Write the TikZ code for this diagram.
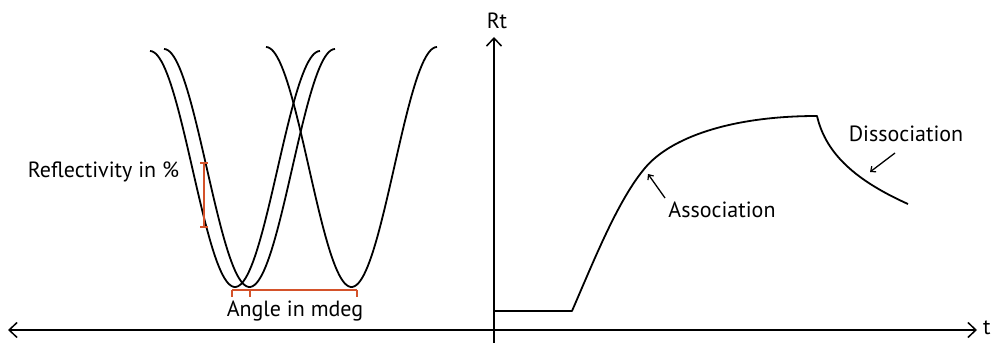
\documentclass[tikz,border=0pt]{standalone}
\usepackage{fontspec}
\setmainfont{PT Sans}
\usetikzlibrary{arrows.meta,calc}
\definecolor{bracketred}{RGB}{212,82,42}
\tikzset{
  curve/.style={line width=1.8pt, black, line join=round},
  axisline/.style={line width=1.5pt, black},
  pointer/.style={line width=1.3pt, black, -{Straight Barb[length=4pt,width=7pt,line width=1.2pt]}},
  redbar/.style={line width=2pt, bracketred},
  lbl/.style={inner sep=0pt, font=\fontsize{22}{26}\selectfont},
}
\begin{document}
\begin{tikzpicture}[x=1pt,y=-1pt]
\useasboundingbox[fill=white] (0,0) rectangle (994,344);

% axes
\coordinate (xl) at (8,330);
\coordinate (xr) at (977,330);
\coordinate (yb) at (494,343);
\coordinate (yt) at (494,37);
\draw[axisline, {Straight Barb[length=8pt,width=15pt]}-{Straight Barb[length=8pt,width=15pt]}] (xl) -- (xr);
\draw[axisline, -{Straight Barb[length=8pt,width=15pt]}] (yb) -- (yt);
\node[lbl] (rt) at (497,21) {Rt};
\node[lbl, anchor=west] (tlab) at (983,328) {t};

% SPR reflectivity dips
\draw[curve] plot[domain=150:320, samples=90] (\x,{169+118*cos((\x-235)*180/85)});
\draw[curve] plot[domain=164:335, samples=90] (\x,{168+119*cos((\x-249.5)*180/85.5)});
\draw[curve] plot[domain=266:437, samples=90] (\x,{167+120*cos((\x-351.5)*180/85.5)});

% red annotations
\coordinate (rbt) at (204,163);
\coordinate (rbb) at (204,227);
\draw[redbar] (rbt) -- (rbb);
\draw[redbar] ($(rbt)+(-4,0)$) -- ($(rbt)+(4,0)$);
\draw[redbar] ($(rbb)+(-4,0)$) -- ($(rbb)+(4,0)$);
\coordinate (ha) at (232,290);
\coordinate (hb) at (250,290);
\coordinate (hc) at (357,290);
\draw[redbar] (ha) -- (hc);
\draw[redbar] (ha) -- ++(0,7);
\draw[redbar] (hb) -- ++(0,7);
\draw[redbar] (hc) -- ++(0,7);

\node[lbl] (refl) at (103.5,172) {Reflectivity in \%};
\node[lbl] (angle) at (295,311) {Angle in mdeg};

% sensorgram
\coordinate (s0) at (494,311);
\coordinate (s1) at (572,311);
\coordinate (sm) at (645,168);
\coordinate (top) at (817,116);
\coordinate (send) at (908,204);
\draw[curve] (s0) -- (s1)
  .. controls (595,258) and (618,200) .. (sm)
  .. controls (670,138) and (730,116) .. (top)
  .. controls (825,150) and (850,178) .. (send);

\node[lbl] (assoc) at (722,210) {Association};
\node[lbl] (dissoc) at (906,134) {Dissociation};
\coordinate (atip) at (648,174);
\coordinate (afrom) at (665,198);
\coordinate (dtip) at (870,172);
\coordinate (dfrom) at (895,153);
\draw[pointer] (afrom) -- (atip);
\draw[pointer] (dfrom) -- (dtip);
\end{tikzpicture}
\end{document}
